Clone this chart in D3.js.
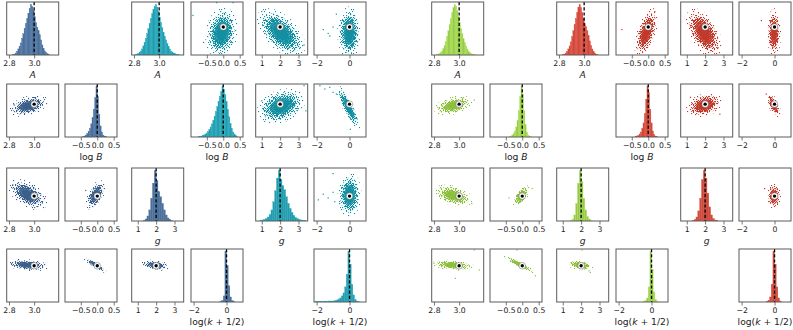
<!DOCTYPE html>
<html lang="en">
<head>
<meta charset="utf-8">
<title>Corner plots</title>
<style>
  body { margin: 0; background: white; }
  svg { display: block; background: white; }
  text { font-family: "DejaVu Sans", sans-serif; fill: #222; }
  .frame { fill: none; stroke: #5a5a5a; stroke-width: 1; }
  .tick line { stroke: #555; stroke-width: 0.8; }
  .tick text { font-size: 7.7px; }
  .lab { font-size: 9.2px; text-anchor: middle; }
</style>
</head>
<body>
<div id="chart"></div>
<script src="https://cdn.jsdelivr.net/npm/d3@7/dist/d3.min.js"></script>
<script>
// ---- data ----
var varNames = ["A", "logB", "g", "logk"];
var truths = [3.0, 0.0, 2.0, 0.0];
var domains = [[2.782, 3.195], [-0.98, 0.6], [0.67, 3.5], [-2.16, 1.0]];
var tickVals = [[2.8, 3.0], [-0.5, 0.0, 0.5], [1, 2, 3], [-2, 0]];
var tickLabels = [["2.8", "3.0"], ["\u22120.5", "0.0", "0.5"], ["1", "2", "3"], ["\u22122", "0"]];

// histogram bins: [start, step]
var binA = [2.80, 0.01];
var binLogB = [-0.8, 0.04];
var binG = [0.9, 0.1];
var binLogK = [-2.1, 0.1];

var histBlueA  = [0,0,0,1,2,4,7,12,17,24,33,42,52,62,72,82,92,100,96,88,76,64,55,48,40,30,20,13,8,5,3,1,0,0,0,0];
var histTealA  = [0,1,2,3,5,8,12,18,25,33,42,52,62,72,82,90,96,100,95,86,75,64,54,45,37,30,23,17,12,8,6,4,3,2,1,1];
var histGreenA = [0,0,1,2,3,5,8,13,19,27,37,48,60,72,84,94,100,97,88,76,64,52,42,33,25,18,12,8,5,3,2,1,1,0,0,0];
var histRedA   = [0,0,0,1,2,4,7,12,18,26,36,48,60,72,84,95,100,94,84,72,62,56,48,38,28,19,12,7,4,2,1,0,0,0,0,0];

var histBlueLogB  = [0,0,0,0,0,0,0,0,0,1,2,4,7,11,17,26,38,55,78,100,80,45,22,10,4,2,1,0,0,0,0,0];
var histTealLogB  = [0,1,1,2,3,4,6,8,11,15,20,26,33,41,50,60,70,80,90,100,95,84,70,55,40,27,17,10,6,3,1,0];
var histGreenLogB = [0,0,0,0,0,0,0,0,0,0,1,2,4,7,12,20,33,52,80,100,85,52,25,10,4,2,1,0,0,0,0,0];
var histRedLogB   = [0,0,0,0,0,0,0,0,0,0,1,2,3,6,10,17,28,46,75,100,88,55,28,12,5,2,1,0,0,0,0,0];

var histBlueG  = [0,0,0,0,1,4,10,22,45,75,100,80,58,48,35,22,12,6,3,1,0,0,0,0,0,0];
var histTealG  = [1,2,3,5,8,13,22,38,60,85,100,82,70,62,48,35,25,17,11,7,5,3,2,1,1,0];
var histGreenG = [0,0,0,0,0,1,4,12,35,75,100,78,45,22,9,4,1,0,0,0,0,0,0,0,0,0];
var histRedG   = [0,0,0,0,1,3,8,20,45,82,100,85,55,28,12,5,2,1,0,0,0,0,0,0,0,0];

var histBlueLogK  = [0,0,0,0,0,0,0,0,0,0,0,0,0,0,0,0,0,1,3,12,100,72,32,10,3,1,0,0,0,0];
var histTealLogK  = [1,1,1,1,1,1,1,1,2,2,2,2,3,4,6,8,12,18,30,55,100,75,35,14,5,2,1,0,0,0];
var histGreenLogK = [0,0,0,0,0,0,0,0,0,0,0,0,0,0,0,0,1,3,8,30,100,65,20,5,1,0,0,0,0,0];
var histRedLogK   = [0,0,0,0,0,0,0,0,0,0,0,0,0,0,0,0,1,3,10,35,100,75,30,8,2,0,0,0,0,0];

// point clouds: [row, col, centre x, centre y, spread x, spread y, correlation]
var cloudsBlue = [
  [1, 0, 2.955, -0.05, 0.047, 0.10, 0.4],
  [2, 0, 2.95, 2.08, 0.047, 0.25, -0.5],
  [2, 1, -0.05, 2.05, 0.09, 0.24, 0.5],
  [3, 0, 2.95, 0.04, 0.052, 0.11, -0.3],
  [3, 1, -0.07, 0.06, 0.11, 0.15, -0.9],
  [3, 2, 1.97, 0.03, 0.24, 0.10, -0.3]
];
var cloudsTeal = [
  [0, 1, -0.05, 2.955, 0.15, 0.06, 0.15],
  [0, 2, 2.05, 2.955, 0.4, 0.058, -0.55],
  [0, 3, -0.02, 2.955, 0.22, 0.062, 0.0],
  [1, 2, 2.05, -0.06, 0.4, 0.16, 0.3],
  [1, 3, -0.07, -0.1, 0.22, 0.2, -0.85],
  [2, 3, 0.0, 2.05, 0.22, 0.36, 0.05]
];
var cloudsGreen = [
  [1, 0, 2.955, -0.04, 0.047, 0.09, 0.4],
  [2, 0, 2.955, 2.02, 0.047, 0.18, -0.4],
  [2, 1, -0.03, 2.0, 0.08, 0.18, 0.5],
  [3, 0, 2.955, 0.03, 0.052, 0.10, -0.3],
  [3, 1, -0.08, 0.08, 0.15, 0.16, -0.92],
  [3, 2, 1.95, 0.03, 0.22, 0.10, -0.3]
];
var cloudsRed = [
  [0, 1, -0.06, 2.955, 0.11, 0.058, 0.55],
  [0, 2, 1.93, 2.955, 0.3, 0.058, -0.5],
  [0, 3, -0.03, 2.955, 0.13, 0.058, 0.0],
  [1, 2, 1.95, -0.03, 0.3, 0.11, 0.3],
  [1, 3, -0.05, -0.03, 0.13, 0.11, -0.6],
  [2, 3, -0.03, 2.0, 0.13, 0.21, 0.0]
];

// stray points: [row, col, x, y]
var strayBlue = [[1, 0, 2.84, -0.02], [2, 0, 2.83, 2.6], [2, 1, -0.35, 2.3]];
var strayTeal = [
  [0, 1, -0.92, 3.09], [0, 1, -0.2, 3.19], [0, 1, 0.3, 3.19], [0, 1, -0.6, 2.88],
  [0, 2, 1.0, 3.12], [0, 2, 3.3, 2.86], [0, 2, 3.1, 2.84],
  [0, 3, -1.6, 2.98], [0, 3, -1.3, 2.95], [0, 3, -1.0, 3.0], [0, 3, -1.2, 2.93], [0, 3, -0.8, 3.1],
  [1, 2, 1.0, 0.1], [1, 2, 3.4, -0.2], [1, 2, 3.3, 0.55], [1, 2, 1.2, -0.35],
  [1, 3, -1.8, 0.55], [1, 3, -1.5, 0.45], [1, 3, -1.2, 0.5], [1, 3, -1.0, 0.35], [1, 3, -0.8, 0.3], [1, 3, 0.05, -0.75],
  [2, 3, -1.9, 1.8], [2, 3, -1.6, 2.1], [2, 3, -1.3, 1.9], [2, 3, -1.0, 2.2], [2, 3, -0.9, 1.7], [2, 3, -1.0, 3.2], [2, 3, -0.6, 1.6]
];
var strayGreen = [
  [1, 0, 2.83, -0.1], [1, 0, 3.12, 0.12],
  [2, 0, 2.82, 2.3], [2, 0, 3.1, 1.6],
  [2, 1, -0.4, 1.9], [2, 1, 0.3, 2.4],
  [3, 0, 2.80, 0.15], [3, 0, 3.12, 0.94], [3, 0, 3.16, -0.25], [3, 0, 2.97, -0.75],
  [3, 1, -0.16, 0.94], [3, 1, 0.4, -0.6],
  [3, 2, 2.05, 0.94], [3, 2, 2.43, -0.3], [3, 2, 2.5, -0.4]
];
var strayRed = [
  [0, 1, -0.8, 2.98], [0, 1, 0.2, 3.12],
  [0, 2, 1.2, 3.0], [0, 2, 2.7, 2.84],
  [0, 3, -0.8, 3.05],
  [1, 2, 1.2, 0.2], [1, 2, 2.8, -0.3],
  [1, 3, -0.5, 0.3], [2, 3, -0.6, 2.4]
];

var colors = {blue: "#3a5f8b", teal: "#128fa1", green: "#8cbf3c", red: "#c0392b"};

// ---- layout ----
var colX = [6.7, 65, 131.7, 191, 255.7, 314];
var halfOffset = 425;
var rowY = [2, 84, 168, 249];
var W = 52, H = 53;

var corners = [
  {name: "blue", half: 0, shift: 0, lower: true,
   hists: [histBlueA, histBlueLogB, histBlueG, histBlueLogK], clouds: cloudsBlue, stray: strayBlue},
  {name: "teal", half: 0, shift: 2, lower: false,
   hists: [histTealA, histTealLogB, histTealG, histTealLogK], clouds: cloudsTeal, stray: strayTeal},
  {name: "green", half: 1, shift: 0, lower: true,
   hists: [histGreenA, histGreenLogB, histGreenG, histGreenLogK], clouds: cloudsGreen, stray: strayGreen},
  {name: "red", half: 1, shift: 2, lower: false,
   hists: [histRedA, histRedLogB, histRedG, histRedLogK], clouds: cloudsRed, stray: strayRed}
];
var bins = [binA, binLogB, binG, binLogK];

var svg = d3.select("#chart").append("svg")
    .attr("width", 793)
    .attr("height", 330);
var defs = svg.append("defs");

// speckle fills for the outer parts of the clouds (fixed dot tiles)
var speckles = {
  sparse: [11, [[0,0],[5,1],[9,3],[2,4],[7,6],[4,8],[10,9],[1,9]]],
  mid:    [7,  [[0,0],[3,1],[5,2],[1,3],[4,4],[6,5],[2,5],[0,6],[5,6],[3,3]]],
  dense:  [5,  [[0,0],[2,0],[4,1],[1,1],[3,2],[0,2],[2,3],[4,3],[1,4],[3,4],[0,3],[2,1]]]
};
Object.keys(colors).forEach(function(k) {
    Object.keys(speckles).forEach(function(s) {
        var sz = speckles[s][0];
        var pat = defs.append("pattern").attr("id", s + "-" + k)
            .attr("patternUnits", "userSpaceOnUse").attr("width", sz).attr("height", sz);
        speckles[s][1].forEach(function(p) {
            pat.append("rect").attr("x", p[0]).attr("y", p[1]).attr("width", 1.1).attr("height", 1.1).attr("fill", colors[k]);
        });
    });
});

var clipCount = 0;

function makePanel(corner, r, c) {
    var x0 = colX[c + corner.shift] + corner.half * halfOffset;
    var y0 = rowY[r];
    var xs = d3.scaleLinear().domain(domains[c]).range([x0, x0 + W]);
    var g = svg.append("g");
    var id = "clip" + (clipCount++);
    defs.append("clipPath").attr("id", id).append("rect")
        .attr("x", x0).attr("y", y0).attr("width", W).attr("height", H);
    var body = g.append("g").attr("clip-path", "url(#" + id + ")");

    // x axis
    var axis = d3.axisBottom(xs)
        .tickValues(tickVals[c])
        .tickFormat(function(d, i) { return tickLabels[c][i]; })
        .tickSize(3.5)
        .tickPadding(2.5);
    g.append("g").attr("transform", "translate(0," + (y0 + H) + ")").call(axis)
        .call(function(s) { s.select(".domain").remove(); })
        .selectAll("text").attr("font-family", "DejaVu Sans").attr("fill", "#222");

    return {g: g, body: body, xs: xs, x0: x0, y0: y0};
}

function drawFrame(p) {
    p.g.append("rect").attr("class", "frame")
        .attr("x", p.x0).attr("y", p.y0).attr("width", W).attr("height", H);
}

function drawHist(corner, i) {
    var p = makePanel(corner, i, i);
    var counts = corner.hists[i];
    var b = bins[i];
    var ys = d3.scaleLinear().domain([0, d3.max(counts) * 1.05]).range([p.y0 + H, p.y0]);
    var col = colors[corner.name];
    p.body.selectAll("rect.bar")
        .data(counts)
        .enter().append("rect")
        .attr("class", "bar")
        .attr("x", function(d, k) { return p.xs(b[0] + k * b[1]); })
        .attr("width", function(d, k) { return p.xs(b[0] + (k + 1) * b[1]) - p.xs(b[0] + k * b[1]); })
        .attr("y", function(d) { return ys(d); })
        .attr("height", function(d) { return ys(0) - ys(d); })
        .attr("fill", col)
        .attr("fill-opacity", 0.9)
        .attr("stroke", d3.color(col).brighter(0.6))
        .attr("stroke-width", 0.3);
    p.body.append("line")
        .attr("x1", p.xs(truths[i])).attr("x2", p.xs(truths[i]))
        .attr("y1", p.y0).attr("y2", p.y0 + H)
        .attr("stroke", "#000").attr("stroke-width", 1.3).attr("stroke-dasharray", "3.2,2");
    drawFrame(p);

    // variable label
    var t = p.g.append("text").attr("class", "lab")
        .attr("x", p.x0 + W / 2).attr("y", p.y0 + H + 22.5);
    if (i == 0) {
        t.append("tspan").attr("font-style", "italic").text("A");
    } else if (i == 1) {
        t.append("tspan").text("log ");
        t.append("tspan").attr("font-style", "italic").text("B");
    } else if (i == 2) {
        t.append("tspan").attr("font-style", "italic").text("g");
    } else {
        t.append("tspan").text("log(");
        t.append("tspan").attr("font-style", "italic").text("k");
        t.append("tspan").text(" + 1/2)");
    }
}

function ellipse(cl, k, xs, ys) {
    var pts = d3.range(0, 64).map(function(n) {
        var t = n / 64 * 2 * Math.PI;
        var ex = cl[2] + k * cl[4] * Math.cos(t);
        var ey = cl[3] + k * cl[5] * (cl[6] * Math.cos(t) + Math.sqrt(1 - cl[6] * cl[6]) * Math.sin(t));
        return [xs(ex), ys(ey)];
    });
    return d3.line().curve(d3.curveCardinalClosed)(pts);
}

function drawScatter(corner, cl) {
    var r = cl[0], c = cl[1];
    var p = makePanel(corner, r, c);
    var ys = d3.scaleLinear().domain(domains[r]).range([p.y0 + H, p.y0]);
    var col = colors[corner.name];
    p.body.append("path").attr("d", ellipse(cl, 3.3, p.xs, ys)).attr("fill", "url(#sparse-" + corner.name + ")");
    p.body.append("path").attr("d", ellipse(cl, 2.6, p.xs, ys)).attr("fill", "url(#mid-" + corner.name + ")");
    p.body.append("path").attr("d", ellipse(cl, 2.0, p.xs, ys)).attr("fill", "url(#dense-" + corner.name + ")");
    p.body.append("path").attr("d", ellipse(cl, 1.5, p.xs, ys)).attr("fill", col).attr("fill-opacity", 0.8);
    p.body.append("path").attr("d", ellipse(cl, 1.0, p.xs, ys)).attr("fill", col);

    p.body.selectAll("rect.stray")
        .data(corner.stray.filter(function(s) { return s[0] == r && s[1] == c; }))
        .enter().append("rect")
        .attr("class", "stray")
        .attr("x", function(d) { return p.xs(d[2]) - 0.6; })
        .attr("y", function(d) { return ys(d[3]) - 0.6; })
        .attr("width", 1.2).attr("height", 1.2)
        .attr("fill", col);

    // true value marker
    p.body.append("circle")
        .attr("cx", p.xs(truths[c])).attr("cy", ys(truths[r]))
        .attr("r", 3.3).attr("fill", "white").attr("stroke", "#444").attr("stroke-width", 0.4);
    p.body.append("circle")
        .attr("cx", p.xs(truths[c])).attr("cy", ys(truths[r]))
        .attr("r", 1.7).attr("fill", "#000");
    drawFrame(p);
}

corners.forEach(function(corner) {
    for (var i = 0; i < 4; i++) drawHist(corner, i);
    corner.clouds.forEach(function(cl) { drawScatter(corner, cl); });
});
</script>
</body>
</html>
